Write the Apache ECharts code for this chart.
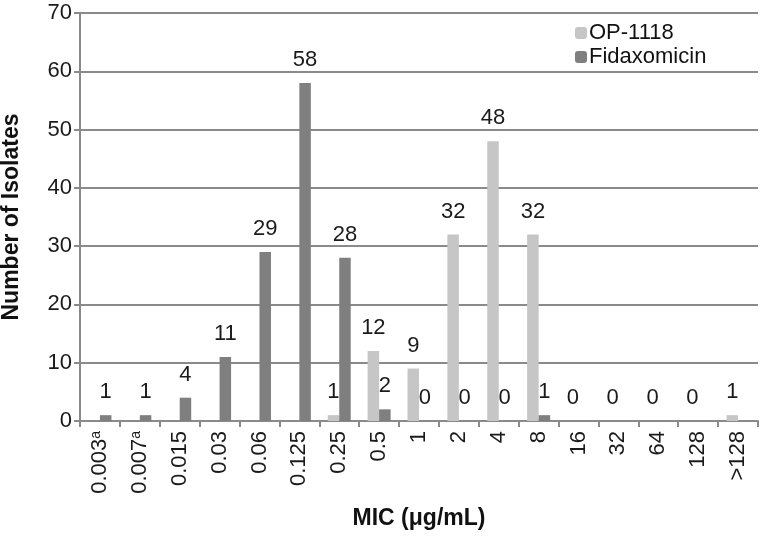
<!DOCTYPE html>
<html><head><meta charset="utf-8">
<script src="https://cdn.jsdelivr.net/npm/echarts@6/dist/echarts.min.js"></script>
<style>html,body{margin:0;padding:0;background:#fff}#c{width:762px;height:537px}</style>
</head><body><div id="c"></div>
<script>
var categories = ['0.003{sup|a}', '0.007{sup|a}', '0.015', '0.03', '0.06', '0.125', '0.25', '0.5', '1', '2', '4', '8', '16', '32', '64', '128', '>128'];
var op1118 = [0, 0, 0, 0, 0, 0, 1, 12, 9, 32, 48, 32, 0, 0, 0, 0, 1];
var fidaxomicin = [1, 1, 4, 11, 29, 58, 28, 2, 0, 0, 0, 1, 0, 0, 0, 0, 0];
var opLabelShown = [0, 0, 0, 0, 0, 0, 1, 1, 1, 1, 1, 1, 1, 1, 1, 1, 1];
var fidLabelShown = [1, 1, 1, 1, 1, 1, 1, 1, 1, 1, 1, 1, 0, 0, 0, 0, 0];
var yTicks = [0, 10, 20, 30, 40, 50, 60, 70];

var FONT = '"Liberation Sans", Arial, sans-serif';
function mk(vals, shown) {
  return vals.map(function (v, i) {
    return { value: v, label: { show: !!shown[i] } };
  });
}
var lbl = { position: 'top', distance: 12, fontSize: 22, fontFamily: FONT, color: '#1a1a1a' };
var chart = echarts.init(document.getElementById('c'));
chart.setOption({
  animation: false,
  textStyle: { fontFamily: FONT },
  grid: { left: 80, right: 4, top: 13, bottom: 116, containLabel: false, outerBoundsMode: 'none' },
  legend: {
    orient: 'vertical', left: 570, top: 17, itemWidth: 12, itemHeight: 12, itemGap: 2,
    textStyle: { fontSize: 22, fontFamily: FONT, color: '#111', padding: [0, 0, 0, -3] },
    data: ['OP-1118', 'Fidaxomicin']
  },
  xAxis: {
    type: 'category', data: categories,
    name: 'MIC (μg/mL)', nameLocation: 'middle', nameGap: 86,
    nameTextStyle: { fontSize: 23, fontWeight: 'bold', fontFamily: FONT, color: '#111' },
    axisLine: { lineStyle: { color: '#8a8a8a', width: 2 } },
    axisTick: { show: true, length: 6, lineStyle: { color: '#8a8a8a', width: 2 } },
    axisLabel: {
      rotate: 90, margin: 10, fontSize: 22, fontFamily: FONT, color: '#1a1a1a', interval: 0,
      rich: { sup: { fontSize: 14, verticalAlign: 'top', fontFamily: FONT, color: '#1a1a1a' } }
    }
  },
  yAxis: {
    type: 'value', min: 0, max: 70, interval: 10,
    name: 'Number of Isolates', nameLocation: 'middle', nameGap: 57, nameRotate: 90,
    nameTextStyle: { fontSize: 23, fontWeight: 'bold', fontFamily: FONT, color: '#111' },
    axisLine: { show: true, lineStyle: { color: '#8a8a8a', width: 2 } },
    axisTick: { show: true, length: 6, lineStyle: { color: '#8a8a8a', width: 2 } },
    axisLabel: { fontSize: 22, fontFamily: FONT, color: '#1a1a1a', margin: 8,
      formatter: function (v) { return yTicks.indexOf(v) >= 0 ? String(v) : ''; } },
    splitLine: { lineStyle: { color: '#8a8a8a', width: 2 } }
  },
  series: [
    { name: 'OP-1118', type: 'bar', data: mk(op1118, opLabelShown), barWidth: 11.5, barGap: '0%',
      itemStyle: { color: '#c6c6c6' }, label: lbl },
    { name: 'Fidaxomicin', type: 'bar', data: mk(fidaxomicin, fidLabelShown), barWidth: 11.5,
      itemStyle: { color: '#7f7f7f' }, label: lbl }
  ]
});
</script></body></html>
